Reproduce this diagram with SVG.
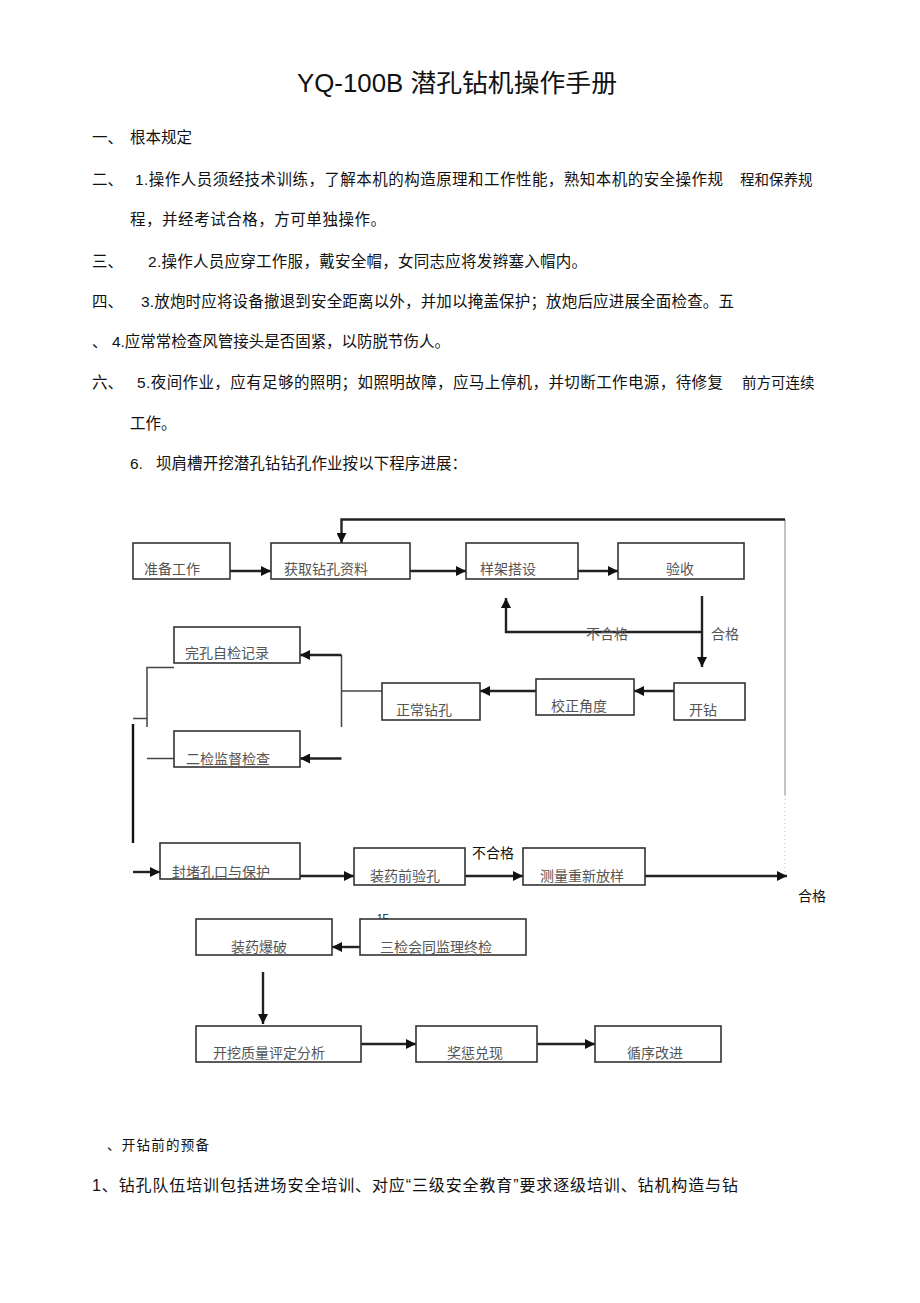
<svg xmlns="http://www.w3.org/2000/svg" width="920" height="1303" viewBox="0 0 920 1303">
<style>
.t{font-family:"Liberation Sans","Noto Sans CJK SC",sans-serif;fill:#111;}
.b{font-size:15.5px;}
.s{font-size:14.5px;}
.f{font-family:"Noto Sans CJK SC",sans-serif;font-size:14px;fill:#555;}
.box{fill:#fff;stroke:#333;stroke-width:1.6;}
.ar{fill:none;stroke:#222;stroke-width:2.4;marker-end:url(#ah);}
.ln{fill:none;stroke:#444;stroke-width:1.5;}
</style>
<defs>
<marker id="ah" markerUnits="userSpaceOnUse" markerWidth="10" markerHeight="10" refX="10" refY="5" orient="auto">
<path d="M0,0 L10,5 L0,10 z" fill="#111"/>
</marker>
</defs>
<rect width="920" height="1303" fill="#fff"/>

<g id="text-body">
<text class="t" x="297" y="92" font-size="25" textLength="320" lengthAdjust="spacingAndGlyphs">YQ-100B 潜孔钻机操作手册</text>
<text class="t b" x="92" y="143">一、</text>
<text class="t b" x="130" y="143" textLength="62">根本规定</text>
<text class="t b" x="92" y="185">二、</text>
<text class="t b" x="135" y="185" textLength="588">1.操作人员须经技术训练，了解本机的构造原理和工作性能，熟知本机的安全操作规</text>
<text class="t s" x="740" y="185">程和保养规</text>
<text class="t b" x="130" y="225" textLength="256">程，并经考试合格，方可单独操作。</text>
<text class="t b" x="92" y="267">三、</text>
<text class="t b" x="148" y="267" textLength="439">2.操作人员应穿工作服，戴安全帽，女同志应将发辫塞入帽内。</text>
<text class="t b" x="92" y="307">四、</text>
<text class="t b" x="141" y="307" textLength="593">3.放炮时应将设备撤退到安全距离以外，并加以掩盖保护；放炮后应进展全面检查。五</text>
<text class="t b" x="92" y="347">、</text>
<text class="t b" x="112" y="347" textLength="338">4.应常常检查风管接头是否固紧，以防脱节伤人。</text>
<text class="t b" x="92" y="388">六、</text>
<text class="t b" x="137" y="388" textLength="586">5.夜间作业，应有足够的照明；如照明故障，应马上停机，并切断工作电源，待修复</text>
<text class="t s" x="742" y="388">前方可连续</text>
<text class="t b" x="130" y="429">工作。</text>
<text class="t b" x="130" y="469">6.</text>
<text class="t b" x="156" y="469" textLength="311">坝肩槽开挖潜孔钻钻孔作业按以下程序进展：</text>
<text class="t" x="107" y="1150" font-size="13.5" textLength="102">、开钻前的预备</text>
<text class="t" x="92" y="1191" font-size="16" textLength="646">1、钻孔队伍培训包括进场安全培训、对应“三级安全教育”要求逐级培训、钻机构造与钻</text>
</g>

<g id="connectors">
<line class="ar" x1="230" y1="571" x2="271" y2="571"/>
<line class="ar" x1="410" y1="571" x2="466" y2="571"/>
<line class="ar" x1="578" y1="571" x2="618" y2="571"/>
<polyline fill="none" stroke="#999" stroke-width="1.2" points="785,795 785,519.5"/>
<line x1="785" y1="795" x2="785" y2="876" stroke="#bbb" stroke-width="1" stroke-dasharray="1,3"/>
<polyline class="ar" points="785,519.5 341.5,519.5 341.5,543"/>
<line class="ar" x1="702" y1="596" x2="702" y2="667"/>
<polyline class="ar" points="702,632 506,632 506,598"/>
<line class="ar" x1="674" y1="691" x2="634" y2="691"/>
<line class="ar" x1="536" y1="691" x2="480" y2="691"/>
<line class="ln" x1="382" y1="691" x2="341.5" y2="691"/>
<line class="ln" x1="341.5" y1="655" x2="341.5" y2="727"/>
<line class="ar" x1="341.5" y1="655" x2="300" y2="655"/>
<line class="ar" x1="341.5" y1="758.5" x2="300" y2="758.5"/>
<polyline class="ln" points="174,667.5 147,667.5 147,727"/>
<line class="ln" x1="133" y1="718.5" x2="147" y2="718.5"/>
<line class="ln" x1="147" y1="758.5" x2="174" y2="758.5"/>
<line x1="133" y1="724" x2="133" y2="843" stroke="#111" stroke-width="2.4"/>
<line class="ar" x1="133" y1="872" x2="160" y2="872"/>
<line class="ar" x1="300" y1="876" x2="354" y2="876"/>
<line class="ar" x1="465" y1="876" x2="523" y2="876"/>
<line class="ar" x1="645" y1="876" x2="787" y2="876"/>
<line class="ar" x1="360" y1="947" x2="332" y2="947"/>
<line class="ar" x1="263" y1="972" x2="263" y2="1024"/>
<line class="ar" x1="361" y1="1044" x2="416" y2="1044"/>
<line class="ar" x1="537" y1="1044" x2="595" y2="1044"/>
<text class="f" x="586" y="639">不合格</text>
<text class="f" x="711" y="639">合格</text>
<text class="t" x="472" y="858" font-size="14">不合格</text>
<text class="t" x="798" y="901" font-size="14">合格</text>
<text class="t" x="377" y="922" font-size="10">1F</text>
</g>

<g id="n1"><rect class="box" x="133" y="543" width="97" height="36"/><text class="f" x="144" y="574">准备工作</text></g>
<g id="n2"><rect class="box" x="271" y="543" width="139" height="36"/><text class="f" x="284" y="574">获取钻孔资料</text></g>
<g id="n3"><rect class="box" x="466" y="543" width="112" height="36"/><text class="f" x="480" y="574">样架搭设</text></g>
<g id="n4"><rect class="box" x="618" y="543" width="126" height="36"/><text class="f" x="666" y="574">验收</text></g>
<g id="n5"><rect class="box" x="674" y="683" width="71" height="37"/><text class="f" x="689" y="715">开钻</text></g>
<g id="n6"><rect class="box" x="536" y="679" width="98" height="36"/><text class="f" x="551" y="711">校正角度</text></g>
<g id="n7"><rect class="box" x="382" y="683" width="98" height="37"/><text class="f" x="396" y="715">正常钻孔</text></g>
<g id="n8"><rect class="box" x="174" y="627" width="126" height="36"/><text class="f" x="185" y="658">完孔自检记录</text></g>
<g id="n9"><rect class="box" x="174" y="731" width="126" height="36"/><text class="f" x="186" y="764">二检监督检查</text></g>
<g id="n10"><rect class="box" x="160" y="843" width="140" height="36"/><text class="f" x="172" y="877">封堵孔口与保护</text></g>
<g id="n11"><rect class="box" x="354" y="848" width="111" height="37"/><text class="f" x="370" y="881">装药前验孔</text></g>
<g id="n12"><rect class="box" x="523" y="848" width="122" height="37"/><text class="f" x="540" y="881">测量重新放样</text></g>
<g id="n13"><rect class="box" x="196" y="919" width="136" height="36"/><text class="f" x="231" y="952">装药爆破</text></g>
<g id="n14"><rect class="box" x="360" y="919" width="166" height="36"/><text class="f" x="380" y="952">三检会同监理终检</text></g>
<g id="n15"><rect class="box" x="196" y="1026" width="165" height="36"/><text class="f" x="213" y="1058">开挖质量评定分析</text></g>
<g id="n16"><rect class="box" x="416" y="1026" width="121" height="36"/><text class="f" x="447" y="1058">奖惩兑现</text></g>
<g id="n17"><rect class="box" x="595" y="1026" width="126" height="36"/><text class="f" x="627" y="1058">循序改进</text></g>
</svg>
